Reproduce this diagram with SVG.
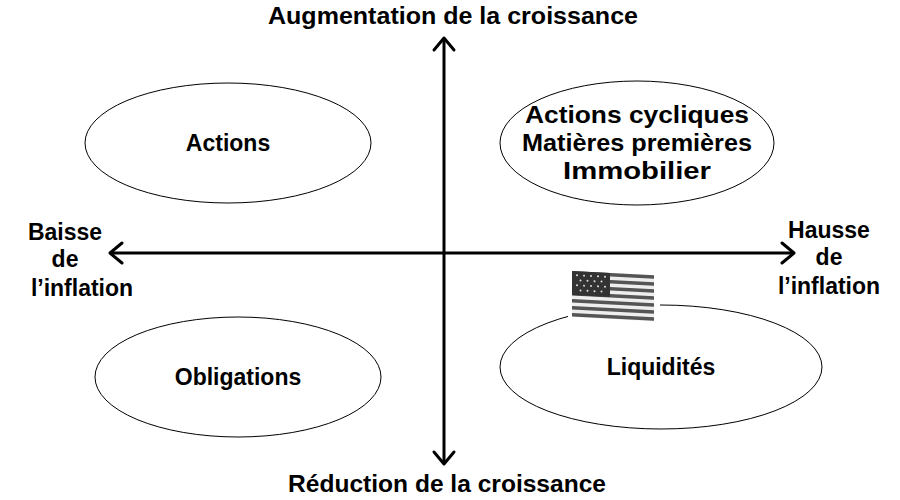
<svg xmlns="http://www.w3.org/2000/svg" width="900" height="500" viewBox="0 0 900 500">
<style>
.e{fill:#fff;stroke:#000;stroke-width:1}
.t{font-family:"Liberation Sans",Arial,sans-serif;font-weight:bold;font-size:23px;fill:#000;text-anchor:middle}
.ax{stroke:#000;stroke-width:3;fill:none}
</style>
<defs>
<marker id="a" markerWidth="30" markerHeight="30" refX="0" refY="0" orient="auto" markerUnits="userSpaceOnUse" overflow="visible">
<path d="M-12,-10 L0,0 L-12,10" fill="none" stroke="#000" stroke-width="3" stroke-linecap="round" stroke-linejoin="round"/>
</marker>
</defs>
<rect width="900" height="500" fill="#fff"/>
<g id="connectors">
<line class="ax" x1="444" y1="253" x2="444" y2="38" marker-end="url(#a)"/>
<line class="ax" x1="444" y1="253" x2="444" y2="464" marker-end="url(#a)"/>
<line class="ax" x1="444" y1="253" x2="110" y2="253" marker-end="url(#a)"/>
<line class="ax" x1="444" y1="253" x2="794" y2="253" marker-end="url(#a)"/>
</g>
<g id="n-actions"><ellipse class="e" cx="228" cy="143" rx="143" ry="60"/><text class="t" x="228" y="151">Actions</text></g>
<g id="n-cycliques"><ellipse class="e" cx="637" cy="143" rx="137" ry="62"/>
<text class="t" x="637" y="123" textLength="224" lengthAdjust="spacingAndGlyphs">Actions cycliques</text><text class="t" x="637" y="151" textLength="230" lengthAdjust="spacingAndGlyphs">Matières premières</text><text class="t" x="637" y="179" textLength="148" lengthAdjust="spacingAndGlyphs">Immobilier</text></g>
<g id="n-obligations"><ellipse class="e" cx="238" cy="377" rx="143" ry="60"/><text class="t" x="238" y="385">Obligations</text></g>
<g id="n-liquidites"><ellipse class="e" cx="661" cy="367" rx="161" ry="62"/><text class="t" x="661" y="375">Liquidités</text></g>
<g id="flag">
<rect x="568" y="266" width="92" height="56" fill="#fff"/>
<g transform="translate(572,271) skewY(3)">
<rect width="82" height="46" fill="#eee"/>
<g fill="#555">
<rect y="0" width="82" height="3.5"/><rect y="7" width="82" height="3.5"/><rect y="14" width="82" height="3.5"/><rect y="21" width="82" height="3.5"/><rect y="28" width="82" height="3.5"/><rect y="35" width="82" height="3.5"/><rect y="42" width="82" height="3.5"/>
</g>
<rect width="38" height="24" fill="#333"/>
<g fill="#ddd">
<circle cx="5" cy="4" r="1"/><circle cx="12" cy="4" r="1"/><circle cx="19" cy="4" r="1"/><circle cx="26" cy="4" r="1"/><circle cx="33" cy="4" r="1"/>
<circle cx="8.5" cy="9" r="1"/><circle cx="15.5" cy="9" r="1"/><circle cx="22.5" cy="9" r="1"/><circle cx="29.5" cy="9" r="1"/>
<circle cx="5" cy="14" r="1"/><circle cx="12" cy="14" r="1"/><circle cx="19" cy="14" r="1"/><circle cx="26" cy="14" r="1"/><circle cx="33" cy="14" r="1"/>
<circle cx="8.5" cy="19" r="1"/><circle cx="15.5" cy="19" r="1"/><circle cx="22.5" cy="19" r="1"/><circle cx="29.5" cy="19" r="1"/>
</g>
</g>
</g>
<g id="labels">
<text class="t" x="453" y="24" textLength="370" lengthAdjust="spacingAndGlyphs">Augmentation de la croissance</text>
<text class="t" x="447" y="492" textLength="318" lengthAdjust="spacingAndGlyphs">Réduction de la croissance</text>
<text class="t" x="65" y="240">Baisse</text><text class="t" x="65" y="267">de</text><text class="t" x="82" y="296">l’inflation</text>
<text class="t" x="829" y="238">Hausse</text><text class="t" x="829" y="265">de</text><text class="t" x="829" y="294">l’inflation</text>
</g>
</svg>
